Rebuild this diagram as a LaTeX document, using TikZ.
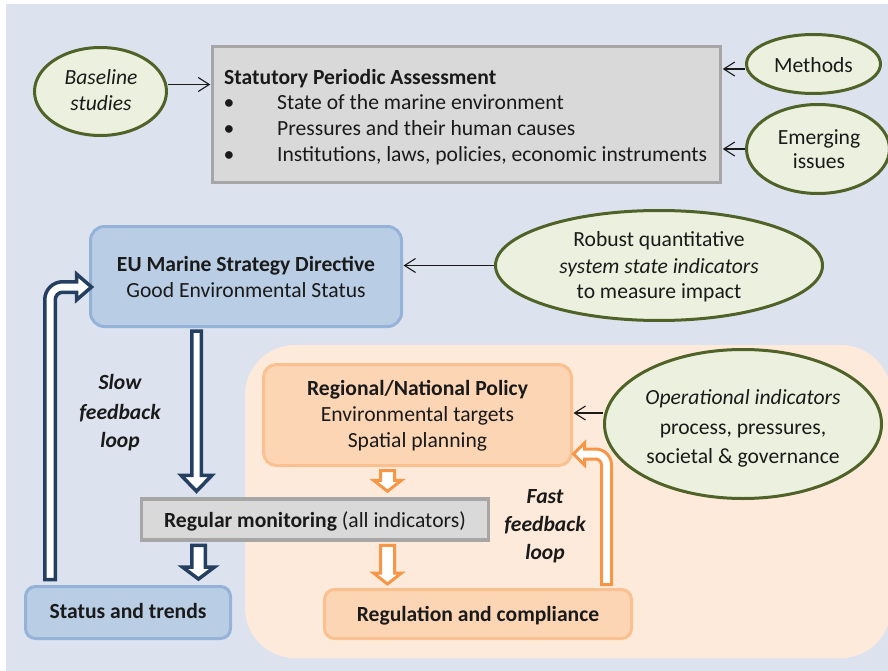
\documentclass[tikz,border=0pt]{standalone}
\usepackage{fontspec}
\setmainfont{Carlito}
\usetikzlibrary{calc,arrows.meta,shapes.geometric}

\definecolor{bgblue}{HTML}{DCE3EF}
\definecolor{zonepeach}{HTML}{FDEADA}
\definecolor{eufill}{HTML}{B9CDE5}
\definecolor{euline}{HTML}{95B3D7}
\definecolor{orfill}{HTML}{FCD5B5}
\definecolor{orline}{HTML}{FAC090}
\definecolor{ellfill}{HTML}{EBF1DE}
\definecolor{ellline}{HTML}{4F6228}
\definecolor{greyfill}{HTML}{D9D9D9}
\definecolor{greyline}{HTML}{A6A6A6}
\definecolor{navyline}{HTML}{243F60}
\definecolor{orarrow}{HTML}{F79646}
\definecolor{ink}{HTML}{1A1A1A}

% straight block arrow pointing down: style, start, tip, shaft half-width, head half-width, head length
\newcommand\downblock[6]{%
  \draw[#1] let \p1=(#2), \p2=(#3) in
    (\x2-#4,\y1) -- (\x2-#4,\y2+#6) -- (\x2-#5,\y2+#6) -- (\x2,\y2)
    -- (\x2+#5,\y2+#6) -- (\x2+#4,\y2+#6) -- (\x2+#4,\y1) -- cycle;}

\tikzset{
  oval/.style={ellipse, draw=ellline, fill=ellfill, line width=3pt, inner sep=0pt},
  greybox/.style={rectangle, draw=greyline, fill=greyfill, line width=3.5pt, inner sep=0pt},
  bluebox/.style={rectangle, rounded corners=14pt, draw=euline, fill=eufill, line width=3pt, inner sep=0pt},
  orangebox/.style={rectangle, rounded corners=13pt, draw=orline, fill=orfill, line width=3pt, inner sep=0pt},
  txt/.style={anchor=base, inner sep=0pt, text=ink, yshift=-1.5pt},
  txtw/.style={anchor=base west, inner sep=0pt, text=ink, yshift=-1.5pt},
  thinarr/.style={draw=ink, line width=1.1pt, -{Straight Barb[length=11pt,width=14pt,line width=1.1pt]}, shorten >=0.5pt},
  navyblock/.style={draw=navyline, fill=white, line width=3.5pt, line join=miter},
  orangeblock/.style={draw=orarrow, fill=white, line width=3pt, line join=miter},
}

\begin{document}
\begin{tikzpicture}[x=1pt,y=-1pt,font=\fontsize{21.6}{26}\selectfont]
\useasboundingbox (0,0) rectangle (888,671);
\clip (0,0) rectangle (888,671);

% backdrop and the regional zone
\fill[bgblue] (6,4) rectangle (888,671);
\fill[zonepeach, rounded corners=50pt] (245,345) rectangle (891,658);

% input ellipses
\node[oval, minimum width=132pt, minimum height=88pt] (baseline) at (100.5,91.5) {};
\node[oval, minimum width=134pt, minimum height=59pt] (meth) at (813.5,64) {};
\node[oval, minimum width=143pt, minimum height=89pt] (emerg) at (818,149) {};
\node[oval, minimum width=327pt, minimum height=110pt] (robust) at (659,265.5) {};
\node[oval, minimum width=277pt, minimum height=149pt] (oper) at (743,424) {};

% boxes
\node[greybox, minimum width=508pt, minimum height=136pt] (spa) at (466.5,114.5) {};
\node[bluebox, minimum width=311pt, minimum height=100pt] (eu) at (246,276.5) {};
\node[orangebox, minimum width=308pt, minimum height=101pt] (reg) at (417.5,415) {};
\node[greybox, minimum width=347pt, minimum height=41pt] (mon) at (315,519.5) {};
\node[bluebox, rounded corners=10pt, minimum width=205pt, minimum height=52pt] (status) at (128,612.5) {};
\node[orangebox, rounded corners=10pt, minimum width=307pt, minimum height=49pt] (regc) at (478,614) {};

% columns of the block arrows
\coordinate (colA) at (196.5,0);
\coordinate (colB) at (198.5,0);
\coordinate (colC) at (387.5,0);
\coordinate (colS) at (50,0);
\coordinate (colF) at (606.5,0);

% downward flow
\downblock{navyblock}{$(eu.south -| colA)+(0,3)$}{$(mon.north -| colA)+(0,-6)$}{4.75pt}{15.5pt}{16pt}
\downblock{navyblock}{$(mon.south -| colB)+(0,3.5)$}{$(status.north -| colB)+(0,-6)$}{6.75pt}{16pt}{12pt}
\downblock{orangeblock}{$(reg.south -| colC)+(0,3.5)$}{$(mon.north -| colC)+(0,-6)$}{7pt}{14pt}{11pt}
\downblock{orangeblock}{$(mon.south -| colC)+(0,3.5)$}{$(regc.north -| colC)+(0,-4)$}{7pt}{14pt}{11pt}

% slow feedback loop: status and trends back to the directive
\draw[navyblock] let \p1=($(status.north -| colS)+(0,-5.5)$), \p2=($(eu.west)+(2.5,10.5)$) in
  (\x1-5.25pt,\y1) -- (\x1-5.25pt,\y2-12.75pt)
  .. controls (\x1-5.25pt,\y2-2.81pt) and (\x1+2.81pt,\y2+5.25pt) .. (\x1+12.75pt,\y2+5.25pt)
  -- (\x2-15pt,\y2+5.25pt) -- (\x2-15pt,\y2+13pt) -- (\x2,\y2) -- (\x2-15pt,\y2-13pt) -- (\x2-15pt,\y2-5.25pt)
  -- (\x1+12.75pt,\y2-5.25pt)
  .. controls (\x1+8.61pt,\y2-5.25pt) and (\x1+5.25pt,\y2-8.61pt) .. (\x1+5.25pt,\y2-12.75pt)
  -- (\x1+5.25pt,\y1) -- cycle;

% fast feedback loop: regulation back to regional policy
\draw[orangeblock] let \p1=($(regc.north -| colF)+(0,-3.5)$), \p2=($(reg.east)+(0.5,39)$) in
  (\x1+5pt,\y1) -- (\x1+5pt,\y2-11pt)
  .. controls (\x1+5pt,\y2-2.16pt) and (\x1-2.16pt,\y2+5pt) .. (\x1-11pt,\y2+5pt)
  -- (\x2+11pt,\y2+5pt) -- (\x2+11pt,\y2+11pt) -- (\x2,\y2) -- (\x2+11pt,\y2-11pt) -- (\x2+11pt,\y2-5pt)
  -- (\x1-11pt,\y2-5pt)
  .. controls (\x1-7.69pt,\y2-5pt) and (\x1-5pt,\y2-7.69pt) .. (\x1-5pt,\y2-11pt)
  -- (\x1-5pt,\y1) -- cycle;

% thin input arrows
\draw[thinarr] ([yshift=7pt]baseline.east) -- ([yshift=7pt]baseline.east -| spa.west);
\draw[thinarr] ([yshift=-5pt]meth.west) -- ([yshift=-5pt]meth.west -| spa.east);
\draw[thinarr] (emerg.west) -- (emerg.west -| spa.east);
\draw[thinarr] (robust.west) -- (robust.west -| eu.east);
\draw[thinarr] ([yshift=11pt]oper.west) -- ([yshift=11pt]oper.west -| reg.east);

% texts
\node[txt] (tbase1) at (101,83) {\itshape Baseline};
\node[txt] (tbase2) at (101,109) {\itshape studies};
\node[txt] (tmeth) at (813.5,71) {Methods};
\node[txt] (temer1) at (819,143) {Emerging};
\node[txt] (temer2) at (819,167) {issues};

\node[txtw] (tspa) at (224,83) {\bfseries Statutory Periodic Assessment};
\node[txt] (bul1) at (229,108) {\textbullet};
\node[txt] (bul2) at (229,134) {\textbullet};
\node[txt] (bul3) at (229,160) {\textbullet};
\node[txtw] (item1) at (277,108) {State of the marine environment};
\node[txtw] (item2) at (277,134) {Pressures and their human causes};
\node[txtw] (item3) at (277,160) {Institutions, laws, policies, economic instruments};

\node[txt] (teu1) at (246,270) {\bfseries EU Marine Strategy Directive};
\node[txt] (teu2) at (246,296) {Good Environmental Status};

\node[txt] (trob1) at (659,245) {Robust quantitative};
\node[txt] (trob2) at (659,272) {\itshape system state indicators};
\node[txt] (trob3) at (659,297) {to measure impact};

\node[txt] (treg1) at (417.5,394) {\bfseries Regional/National Policy};
\node[txt] (treg2) at (417.5,420) {Environmental targets};
\node[txt] (treg3) at (417.5,446) {Spatial planning};

\node[txt] (toper1) at (743,403) {\itshape Operational indicators};
\node[txt] (toper2) at (743,433) {process, pressures,};
\node[txt] (toper3) at (743,462) {societal \& governance};

\node[txt] (tmon) at (315,526) {\textbf{Regular monitoring} (all indicators)};
\node[txt] (tstat) at (128,617) {\bfseries Status and trends};
\node[txt] (tregc) at (478,620) {\bfseries Regulation and compliance};

\node[txt] (slow1) at (120,388) {\bfseries\itshape Slow};
\node[txt] (slow2) at (120,418) {\bfseries\itshape feedback};
\node[txt] (slow3) at (120,446) {\bfseries\itshape loop};
\node[txt] (fast1) at (545,502) {\bfseries\itshape Fast};
\node[txt] (fast2) at (545,530) {\bfseries\itshape feedback};
\node[txt] (fast3) at (545,558) {\bfseries\itshape loop};
\end{tikzpicture}
\end{document}
